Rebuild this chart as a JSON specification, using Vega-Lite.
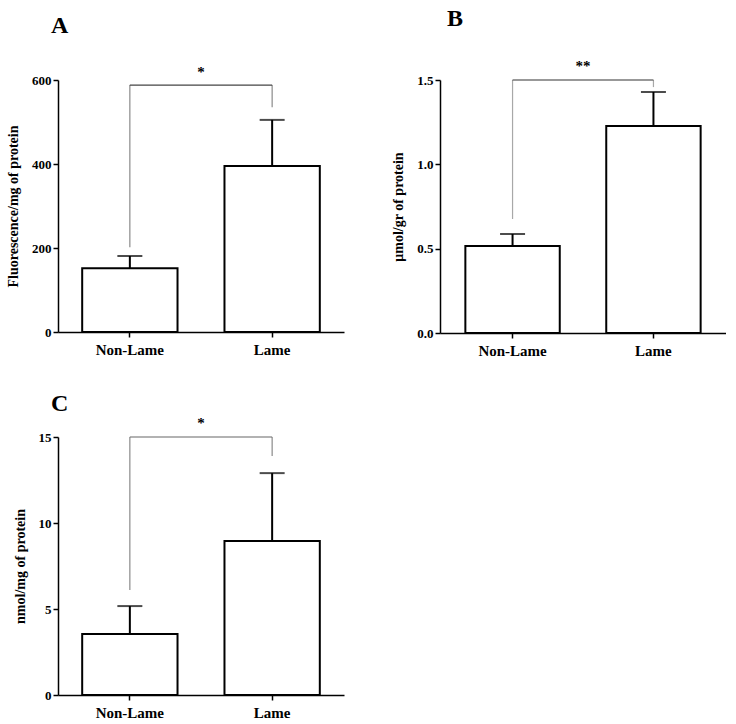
{
  "$schema": "https://vega.github.io/schema/vega-lite/v6.json",
  "padding": {"left": 6, "top": 7, "right": 0, "bottom": 0},
  "background": "white",
  "spacing": 34,
  "config": {
    "font": "Liberation Serif",
    "view": {"stroke": null},
    "axis": {
      "labelFont": "Liberation Serif", "labelFontWeight": "bold", "labelColor": "black",
      "titleFont": "Liberation Serif", "titleFontWeight": "bold", "titleColor": "black",
      "domainColor": "black", "domainWidth": 1.5, "tickColor": "black", "tickWidth": 1.5, "tickSize": 5, "grid": false
    },
    "axisY": {"labelFontSize": 13, "titleFontSize": 14, "labelPadding": 2, "titlePadding": 11},
    "axisX": {"labelFontSize": 15, "labelAngle": 0, "labelPadding": 5},
    "title": {"font": "Liberation Serif", "fontWeight": "bold", "fontSize": 24, "color": "black", "anchor": "start", "frame": "group"}
  },
  "vconcat": [
    {
      "spacing": 47,
      "hconcat": [
        {
          "width": 286, "height": 252,
          "title": {"text": "A", "dx": -7, "offset": 27},
          "layer": [
            {
              "data": {"values": [{"group": "Non-Lame", "mean": 152, "upper": 181}, {"group": "Lame", "mean": 395, "upper": 505}]},
              "layer": [
                {"mark": {"type": "bar", "fill": "white", "stroke": "black", "strokeWidth": 2},
                 "encoding": {
                   "x": {"field": "group", "type": "nominal", "sort": ["Non-Lame", "Lame"], "scale": {"paddingInner": 0.33, "paddingOuter": 0.17}, "axis": {"title": null}},
                   "y": {"field": "mean", "type": "quantitative", "scale": {"domain": [0, 600]}, "axis": {"title": "Fluorescence/mg of protein", "values": [0, 200, 400, 600]}}}},
                {"mark": {"type": "rule", "color": "black", "strokeWidth": 2},
                 "encoding": {
                   "x": {"field": "group", "type": "nominal", "sort": ["Non-Lame", "Lame"]},
                   "y": {"field": "mean", "type": "quantitative", "scale": {"domain": [0, 600]}, "axis": {"title": "Fluorescence/mg of protein"}},
                   "y2": {"field": "upper"}}},
                {"mark": {"type": "tick", "color": "black", "thickness": 2, "size": 25},
                 "encoding": {
                   "x": {"field": "group", "type": "nominal", "sort": ["Non-Lame", "Lame"]},
                   "y": {"field": "upper", "type": "quantitative", "scale": {"domain": [0, 600]}, "axis": {"title": "Fluorescence/mg of protein"}}}}
              ]
            },
            {
              "data": {"values": [{"group": "Non-Lame", "low": 202, "top": 588}, {"group": "Lame", "low": 535, "top": 588}]},
              "layer": [
                {"mark": {"type": "rule", "color": "#8a8a8a", "strokeWidth": 1.2},
                 "encoding": {
                   "x": {"field": "group", "type": "nominal", "sort": ["Non-Lame", "Lame"]},
                   "y": {"field": "low", "type": "quantitative", "scale": {"domain": [0, 600]}, "axis": {"title": "Fluorescence/mg of protein"}},
                   "y2": {"field": "top"}}},
                {"mark": {"type": "line", "color": "#444444", "strokeWidth": 1.2},
                 "encoding": {
                   "x": {"field": "group", "type": "nominal", "sort": ["Non-Lame", "Lame"]},
                   "y": {"field": "top", "type": "quantitative", "scale": {"domain": [0, 600]}, "axis": {"title": "Fluorescence/mg of protein"}}}}
              ]
            },
            {
              "data": {"values": [{"label": "*", "pos": 607}]},
              "mark": {"type": "text", "fontSize": 15, "fontWeight": "bold", "baseline": "alphabetic", "align": "center", "color": "black"},
              "encoding": {
                "text": {"field": "label"},
                "y": {"field": "pos", "type": "quantitative", "scale": {"domain": [0, 600]}, "axis": {"title": "Fluorescence/mg of protein"}}}
            }
          ]
        },
        {
          "width": 286, "height": 253,
          "title": {"text": "B", "dx": 7, "offset": 28},
          "layer": [
            {
              "data": {"values": [{"group": "Non-Lame", "mean": 0.516, "upper": 0.587}, {"group": "Lame", "mean": 1.227, "upper": 1.429}]},
              "layer": [
                {"mark": {"type": "bar", "fill": "white", "stroke": "black", "strokeWidth": 2},
                 "encoding": {
                   "x": {"field": "group", "type": "nominal", "sort": ["Non-Lame", "Lame"], "scale": {"paddingInner": 0.33, "paddingOuter": 0.18}, "axis": {"title": null}},
                   "y": {"field": "mean", "type": "quantitative", "scale": {"domain": [0, 1.5]}, "axis": {"title": "μmol/gr of protein", "values": [0, 0.5, 1, 1.5], "format": ".1f"}}}},
                {"mark": {"type": "rule", "color": "black", "strokeWidth": 2},
                 "encoding": {
                   "x": {"field": "group", "type": "nominal", "sort": ["Non-Lame", "Lame"]},
                   "y": {"field": "mean", "type": "quantitative", "scale": {"domain": [0, 1.5]}, "axis": {"title": "μmol/gr of protein"}},
                   "y2": {"field": "upper"}}},
                {"mark": {"type": "tick", "color": "black", "thickness": 2, "size": 25},
                 "encoding": {
                   "x": {"field": "group", "type": "nominal", "sort": ["Non-Lame", "Lame"]},
                   "y": {"field": "upper", "type": "quantitative", "scale": {"domain": [0, 1.5]}, "axis": {"title": "μmol/gr of protein"}}}}
              ]
            },
            {
              "data": {"values": [{"group": "Non-Lame", "low": 0.676, "top": 1.5}, {"group": "Lame", "low": 1.458, "top": 1.5}]},
              "layer": [
                {"mark": {"type": "rule", "color": "#a8a8a8", "strokeWidth": 1.2},
                 "encoding": {
                   "x": {"field": "group", "type": "nominal", "sort": ["Non-Lame", "Lame"]},
                   "y": {"field": "low", "type": "quantitative", "scale": {"domain": [0, 1.5]}, "axis": {"title": "μmol/gr of protein"}},
                   "y2": {"field": "top"}}},
                {"mark": {"type": "line", "color": "#333333", "strokeWidth": 1.2},
                 "encoding": {
                   "x": {"field": "group", "type": "nominal", "sort": ["Non-Lame", "Lame"]},
                   "y": {"field": "top", "type": "quantitative", "scale": {"domain": [0, 1.5]}, "axis": {"title": "μmol/gr of protein"}}}}
              ]
            },
            {
              "data": {"values": [{"label": "**", "pos": 1.553}]},
              "mark": {"type": "text", "fontSize": 15, "fontWeight": "bold", "baseline": "alphabetic", "align": "center", "color": "black"},
              "encoding": {
                "text": {"field": "label"},
                "y": {"field": "pos", "type": "quantitative", "scale": {"domain": [0, 1.5]}, "axis": {"title": "μmol/gr of protein"}}}
            }
          ]
        }
      ]
    },
    {
      "width": 286, "height": 258,
      "title": {"text": "C", "dx": -7, "offset": 0},
      "layer": [
        {
          "data": {"values": [{"group": "Non-Lame", "mean": 3.55, "upper": 5.17}, {"group": "Lame", "mean": 8.95, "upper": 12.9}]},
          "layer": [
            {"mark": {"type": "bar", "fill": "white", "stroke": "black", "strokeWidth": 2},
             "encoding": {
               "x": {"field": "group", "type": "nominal", "sort": ["Non-Lame", "Lame"], "scale": {"paddingInner": 0.33, "paddingOuter": 0.17}, "axis": {"title": null}},
               "y": {"field": "mean", "type": "quantitative", "scale": {"domain": [0, 15]}, "axis": {"title": "nmol/mg of protein", "values": [0, 5, 10, 15]}}}},
            {"mark": {"type": "rule", "color": "black", "strokeWidth": 2},
             "encoding": {
               "x": {"field": "group", "type": "nominal", "sort": ["Non-Lame", "Lame"]},
               "y": {"field": "mean", "type": "quantitative", "scale": {"domain": [0, 15]}, "axis": {"title": "nmol/mg of protein"}},
               "y2": {"field": "upper"}}},
            {"mark": {"type": "tick", "color": "black", "thickness": 2, "size": 25},
             "encoding": {
               "x": {"field": "group", "type": "nominal", "sort": ["Non-Lame", "Lame"]},
               "y": {"field": "upper", "type": "quantitative", "scale": {"domain": [0, 15]}, "axis": {"title": "nmol/mg of protein"}}}}
          ]
        },
        {
          "data": {"values": [{"group": "Non-Lame", "low": 6.1, "top": 15}, {"group": "Lame", "low": 13.9, "top": 15}]},
          "layer": [
            {"mark": {"type": "rule", "color": "#8a8a8a", "strokeWidth": 1.2},
             "encoding": {
               "x": {"field": "group", "type": "nominal", "sort": ["Non-Lame", "Lame"]},
               "y": {"field": "low", "type": "quantitative", "scale": {"domain": [0, 15]}, "axis": {"title": "nmol/mg of protein"}},
               "y2": {"field": "top"}}},
            {"mark": {"type": "line", "color": "#666666", "strokeWidth": 1.2},
             "encoding": {
               "x": {"field": "group", "type": "nominal", "sort": ["Non-Lame", "Lame"]},
               "y": {"field": "top", "type": "quantitative", "scale": {"domain": [0, 15]}, "axis": {"title": "nmol/mg of protein"}}}}
          ]
        },
        {
          "data": {"values": [{"label": "*", "pos": 15.5}]},
          "mark": {"type": "text", "fontSize": 15, "fontWeight": "bold", "baseline": "alphabetic", "align": "center", "color": "black"},
          "encoding": {
            "text": {"field": "label"},
            "y": {"field": "pos", "type": "quantitative", "scale": {"domain": [0, 15]}, "axis": {"title": "nmol/mg of protein"}}}
        }
      ]
    }
  ]
}
